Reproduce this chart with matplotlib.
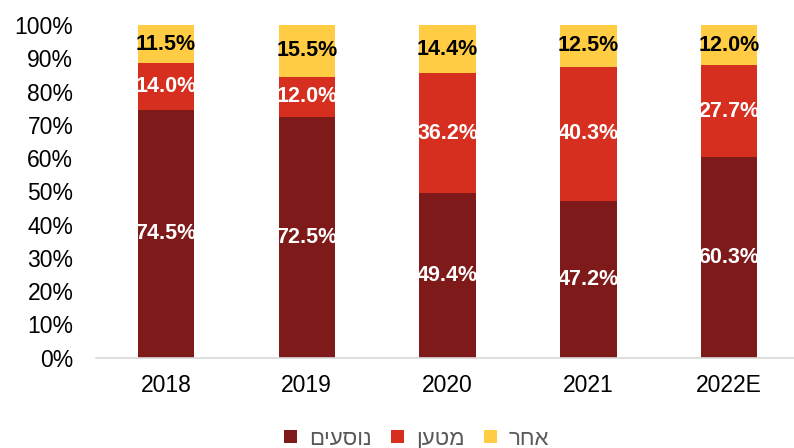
import matplotlib
matplotlib.use('Agg')
import matplotlib.pyplot as plt
import numpy as np

plt.rcParams['font.family'] = ['Liberation Sans', 'DejaVu Sans']

# data
years = ['2018', '2019', '2020', '2021', '2022E']
passengers = [74.5, 72.5, 49.4, 47.2, 60.3]
cargo = [14.0, 12.0, 36.2, 40.3, 27.7]
other = [11.5, 15.5, 14.4, 12.5, 12.0]
series_names = ['נוסעים', 'מטען', 'אחר']

colors = ['#7F1A1A', '#D62E1F', '#FFCC44']
label_colors = ['white', 'white', 'black']

fig = plt.figure(figsize=(7.94, 4.48), dpi=100)
ax = fig.add_axes([0.1203, 0.2015, 0.8797, 0.7425])

x = np.arange(len(years))
bottom = np.zeros(len(years))
handles = []
for vals, col, lcol, name in zip([passengers, cargo, other], colors, label_colors, series_names):
    vals = np.array(vals) / 100.0
    # matplotlib draws left to right, so hebrew is reversed for display
    bars = ax.bar(x, vals, width=0.40, bottom=bottom, color=col, label=name[::-1])
    handles.append(bars)
    for xi, b, v in zip(x, bottom, vals):
        ax.text(xi, b + v / 2, f'{v * 100:.1f}%', ha='center', va='center',
                color=lcol, fontsize=15.5, fontweight='bold')
    bottom = bottom + vals

ax.set_xlim(-0.5, 4.46)
ax.set_ylim(0, 1.0)
ax.set_yticks(np.arange(0, 1.01, 0.1))
ax.set_yticklabels([f'{int(round(t * 100))}%' for t in np.arange(0, 1.01, 0.1)])
ax.set_xticks(x)
ax.set_xticklabels(years)
ax.tick_params(axis='y', length=0, pad=16, labelsize=16.5, labelcolor='black')
ax.tick_params(axis='x', length=0, pad=12, labelsize=16.5, labelcolor='black')

for s in ['top', 'right', 'left']:
    ax.spines[s].set_visible(False)
ax.spines['bottom'].set_color('#D9D9D9')
ax.spines['bottom'].set_linewidth(1.2)

leg = fig.legend(handles=handles, loc='center', bbox_to_anchor=(0.525, 0.02), ncol=3,
                 frameon=False, fontsize=16, handlelength=0.55, handleheight=0.55,
                 columnspacing=0.9, handletextpad=0.55)
for t in leg.get_texts():
    t.set_color('#595959')

fig.savefig('out.png', dpi=100)
